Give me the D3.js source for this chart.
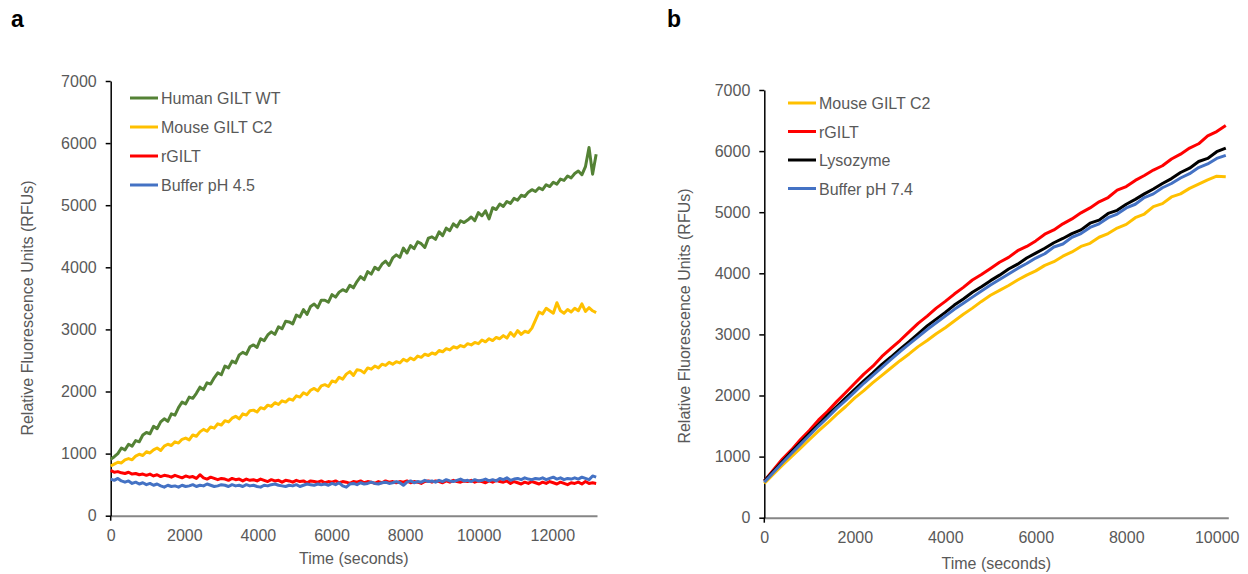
<!DOCTYPE html>
<html>
<head>
  <meta charset="utf-8">
  <script src="https://d3js.org/d3.v7.min.js"></script>
  <style>
    body { margin: 0; background: #fff; }
    svg { display: block; }
    text { font-family: "Liberation Sans", Arial, sans-serif; }
  </style>
</head>
<body>
<script>
// ---- panel a : plate reader readings every 97 s ----
var timeA = d3.range(0, 13193, 97);

var humanA = [
  910, 950, 1000, 1090, 1060, 1150, 1120, 1210, 1190, 1300,
  1340, 1320, 1440, 1400, 1510, 1560, 1520, 1640, 1620, 1740,
  1830, 1800, 1910, 1890, 1970, 2070, 2030, 2140, 2120, 2220,
  2300, 2270, 2410, 2380, 2490, 2460, 2590, 2630, 2600, 2720,
  2750, 2710, 2850, 2820, 2910, 2960, 2920, 3040, 3010, 3130,
  3120, 3090, 3230, 3200, 3320, 3240, 3370, 3410, 3350, 3470,
  3470, 3440, 3560, 3520, 3600, 3640, 3610, 3710, 3670, 3770,
  3850, 3800, 3930, 3890, 4000, 3960, 4050, 4100, 4030, 4150,
  4200, 4160, 4310, 4230, 4350, 4300, 4410, 4380, 4320, 4470,
  4490, 4450, 4570, 4510, 4630, 4590, 4700, 4650, 4750, 4720,
  4760, 4810, 4750, 4880, 4830, 4910, 4780, 4960, 4930, 5020,
  4980, 5060, 5030, 5110, 5080, 5160, 5140, 5210, 5250, 5220,
  5280, 5250, 5330, 5300, 5370, 5340, 5420, 5400, 5470, 5440,
  5510, 5550, 5490, 5620, 5930, 5500, 5820
];

var mouseA = [
  800, 830, 860, 850, 900, 920, 900, 960, 990, 970,
  1030, 1010, 1060, 1090, 1050, 1120, 1150, 1130, 1190, 1170,
  1230, 1250, 1220, 1300, 1280, 1350, 1390, 1360, 1430, 1410,
  1480, 1460, 1530, 1510, 1570, 1600, 1560, 1640, 1620, 1690,
  1700, 1670, 1740, 1720, 1780, 1760, 1820, 1790, 1850, 1830,
  1880, 1860, 1930, 1910, 1980, 1950, 2020, 2050, 2010, 2090,
  2110, 2080, 2170, 2150, 2230, 2200, 2280, 2320, 2260, 2350,
  2340, 2300, 2380, 2360, 2410, 2380, 2440, 2420, 2470, 2440,
  2480, 2460, 2520, 2490, 2540, 2510, 2570, 2550, 2600, 2580,
  2620, 2600, 2660, 2640, 2690, 2670, 2720, 2700, 2740, 2720,
  2770, 2750, 2790, 2770, 2830, 2800, 2850, 2820, 2870, 2850,
  2900, 2860, 2950, 2890, 2980, 2920, 2970, 2950, 3020, 3150,
  3280, 3250, 3340, 3300, 3260, 3430, 3300, 3260, 3320, 3280,
  3340, 3300, 3410, 3290, 3350, 3300, 3270
];

var rgiltA = [
  730, 700, 710, 690, 680, 700, 670, 680, 660, 670,
  650, 670, 640, 660, 630, 650, 640, 620, 650, 630,
  610, 640, 620, 630, 600, 660, 610, 590, 620, 600,
  580, 600, 590, 570, 600, 580, 590, 560, 590, 570,
  580, 560, 590, 570, 550, 580, 560, 570, 540, 570,
  560, 540, 570, 550, 560, 530, 560, 550, 540, 560,
  530, 550, 540, 560, 530, 550, 540, 520, 550, 540,
  560, 530, 550, 540, 520, 550, 530, 560, 540, 550,
  530, 550, 540, 560, 530, 550, 540, 520, 550, 560,
  540, 560, 550, 530, 560, 540, 570, 550, 540, 560,
  550, 570, 540, 560, 550, 530, 560, 540, 570, 550,
  540, 560, 520, 550, 530, 510, 540, 520, 550, 530,
  510, 540, 520, 550, 530, 510, 540, 520, 500, 530,
  520, 540, 510, 550, 520, 530, 520
];

var bufferA = [
  590, 570, 600, 560, 540, 560, 520, 540, 510, 530,
  500, 520, 490, 510, 480, 460, 490, 470, 480, 460,
  490, 470, 480, 500, 470, 490, 480, 510, 490, 470,
  480, 500, 490, 470, 500, 480, 490, 470, 500, 480,
  490, 470, 460, 490, 480, 500, 510, 490, 480, 470,
  490, 480, 500, 470, 490, 510, 500, 490, 510, 500,
  510, 490, 520, 500, 530, 480, 460, 510, 520, 500,
  530, 510, 520, 540, 520, 510, 530, 540, 520, 530,
  550, 530, 490, 540, 560, 530, 550, 540, 570, 550,
  560, 540, 570, 550, 580, 560, 550, 570, 590, 560,
  570, 550, 580, 560, 570, 590, 560, 580, 560, 600,
  580, 610, 570, 590, 600, 580, 610, 590, 580, 600,
  590, 610, 580, 600, 620, 590, 610, 580, 600, 590,
  610, 590, 620, 600, 580, 640, 620
];

// ---- panel b : readings every 200 s ----
var timeB = d3.range(0, 10201, 200);

var mouseB = [
  560, 710, 860, 1000, 1140, 1280, 1420, 1550, 1690, 1820,
  1960, 2080, 2210, 2330, 2450, 2570, 2680, 2800, 2900, 3010,
  3110, 3220, 3330, 3430, 3540, 3640, 3720, 3800, 3890, 3970,
  4040, 4130, 4190, 4280, 4350, 4440, 4490, 4590, 4650, 4740,
  4800, 4910, 4970, 5090, 5140, 5250, 5300, 5390, 5460, 5530,
  5590, 5580
];

var rgiltB = [
  600, 780, 960, 1110, 1280, 1430, 1600, 1740, 1900, 2050,
  2200, 2350, 2480, 2640, 2770, 2900, 3040, 3180, 3300, 3430,
  3540, 3660, 3770, 3890, 3980, 4080, 4180, 4260, 4370, 4440,
  4530, 4640, 4710, 4810, 4890, 4990, 5070, 5170, 5240, 5360,
  5420, 5520, 5600, 5690, 5760, 5870, 5950, 6050, 6120, 6250,
  6320, 6420
];

var lysoB = [
  600, 760, 920, 1080, 1230, 1380, 1530, 1680, 1820, 1960,
  2100, 2240, 2370, 2510, 2630, 2760, 2880, 3010, 3140, 3250,
  3360, 3480, 3580, 3690, 3780, 3880, 3970, 4070, 4150, 4250,
  4330, 4410, 4500, 4570, 4650, 4710, 4820, 4870, 4980, 5030,
  5130, 5210, 5300, 5380, 5470, 5550, 5650, 5720, 5830, 5880,
  5990, 6050
];

var bufferB = [
  580, 740, 900, 1050, 1200, 1350, 1500, 1640, 1790, 1920,
  2060, 2200, 2330, 2460, 2590, 2720, 2840, 2960, 3080, 3190,
  3300, 3410, 3510, 3610, 3710, 3810, 3900, 3990, 4080, 4160,
  4250, 4320, 4430, 4480, 4590, 4650, 4750, 4810, 4910, 4970,
  5070, 5130, 5240, 5300, 5400, 5470, 5560, 5630, 5730, 5790,
  5880, 5930
];

// ticks and labels
var yTicks = [0, 1000, 2000, 3000, 4000, 5000, 6000, 7000];
var xTicksA = [0, 2000, 4000, 6000, 8000, 10000, 12000];
var xTicksB = [0, 2000, 4000, 6000, 8000, 10000];
var namesA = ["Human GILT WT", "Mouse GILT C2", "rGILT", "Buffer pH 4.5"];
var namesB = ["Mouse GILT C2", "rGILT", "Lysozyme", "Buffer pH 7.4"];

var GREEN = "#548235", YELLOW = "#FFC000", RED = "#FF0000", BLUE = "#4472C4", BLACK = "#000000";
var TXT = "#595959";
var FONT = "Liberation Sans, Arial, sans-serif";

var svg = d3.select("body").append("svg")
  .attr("width", 1248)
  .attr("height", 574);

function drawPanel(p) {
  // p holds the pixel box, domain, series and legend spec for one panel
  var x = d3.scaleLinear().domain([0, p.xMax]).range([p.left, p.right]);
  var y = d3.scaleLinear().domain([0, 7000]).range([p.bottom, p.top]);
  var g = svg.append("g");

  // x axis (gray, no ticks)
  var xa = g.append("g")
    .attr("transform", "translate(0," + p.bottom + ")")
    .call(d3.axisBottom(x).tickValues(p.xTicks).tickFormat(d3.format("d"))
      .tickSize(0).tickSizeOuter(0).tickPadding(14));
  xa.select(".domain").attr("stroke", "#868686").attr("stroke-width", 2);
  xa.selectAll("text").attr("fill", TXT).attr("font-size", 16).attr("font-family", FONT);

  // y axis (black, outside ticks)
  var ya = g.append("g")
    .attr("transform", "translate(" + p.left + ",0)")
    .call(d3.axisLeft(y).tickValues(yTicks).tickFormat(d3.format("d"))
      .tickSize(5).tickSizeOuter(0).tickPadding(9));
  ya.select(".domain").attr("stroke", "#000").attr("stroke-width", 1.5);
  ya.selectAll(".tick line").attr("stroke", "#000").attr("stroke-width", 1.5);
  ya.selectAll("text").attr("fill", TXT).attr("font-size", 16).attr("font-family", FONT);
  g.append("line")
    .attr("x1", p.left).attr("x2", p.left)
    .attr("y1", p.bottom).attr("y2", p.bottom + 5)
    .attr("stroke", "#000").attr("stroke-width", 1.5);

  // series lines
  var line = d3.line()
    .x(function(d, i) { return x(p.times[i]); })
    .y(function(d) { return y(d); });
  p.series.forEach(function(s) {
    g.append("path")
      .datum(s.values)
      .attr("d", line)
      .attr("fill", "none")
      .attr("stroke", s.color)
      .attr("stroke-width", 3)
      .attr("stroke-linejoin", "round");
  });

  // legend
  p.series.forEach(function(s, i) {
    var ly = p.legY + i * p.legStep;
    g.append("line")
      .attr("x1", p.legX).attr("x2", p.legX + 28)
      .attr("y1", ly).attr("y2", ly)
      .attr("stroke", s.color).attr("stroke-width", 3);
    g.append("text")
      .attr("x", p.legX + 31).attr("y", ly + 6)
      .attr("fill", TXT).attr("font-size", 16)
      .text(s.name);
  });

  // axis titles
  g.append("text")
    .attr("x", (p.left + p.right) / 2).attr("y", p.xTitleY)
    .attr("text-anchor", "middle").attr("fill", TXT).attr("font-size", 16)
    .text("Time (seconds)");
  g.append("text")
    .attr("transform", "translate(" + p.yTitleX + "," + p.yTitleY + ") rotate(-90)")
    .attr("text-anchor", "middle").attr("fill", TXT).attr("font-size", 16)
    .text("Relative Fluorescence Units (RFUs)");

  // panel letter
  svg.append("text")
    .attr("x", p.letterX).attr("y", 27)
    .attr("font-size", 23).attr("font-weight", "bold").attr("fill", "#000")
    .text(p.letter);
}

var serA = [
  {name: namesA[0], color: GREEN, values: humanA},
  {name: namesA[1], color: YELLOW, values: mouseA},
  {name: namesA[2], color: RED, values: rgiltA},
  {name: namesA[3], color: BLUE, values: bufferA}
];
var serB = [
  {name: namesB[0], color: YELLOW, values: mouseB},
  {name: namesB[1], color: RED, values: rgiltB},
  {name: namesB[2], color: BLACK, values: lysoB},
  {name: namesB[3], color: BLUE, values: bufferB}
];

drawPanel({
  letter: "a", letterX: 11,
  left: 110.7, right: 597, top: 81, bottom: 515.7, xMax: 13215,
  xTicks: xTicksA, times: timeA, series: serA,
  legX: 130, legY: 98, legStep: 29,
  xTitleY: 564, yTitleX: 33, yTitleY: 308
});

drawPanel({
  letter: "b", letterX: 667,
  left: 764.3, right: 1228.3, top: 90, bottom: 517.7, xMax: 10256,
  xTicks: xTicksB, times: timeB, series: serB,
  legX: 788, legY: 103, legStep: 28.5,
  xTitleY: 569, yTitleX: 690, yTitleY: 316
});
</script>
</body>
</html>
